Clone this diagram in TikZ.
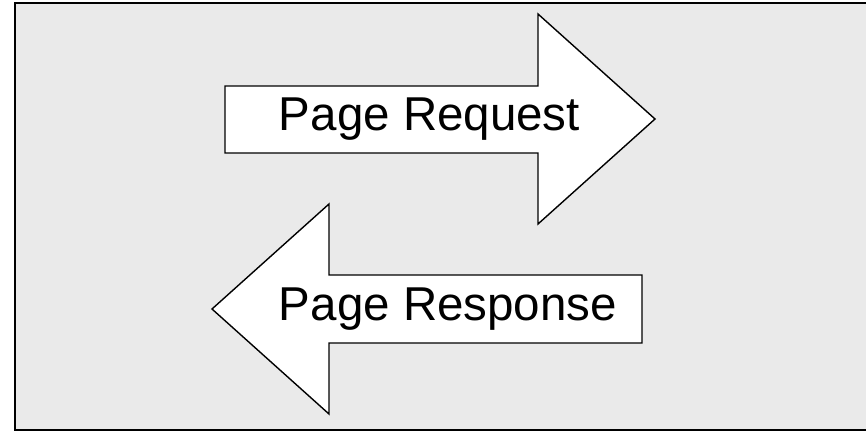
\documentclass[tikz,border=0pt]{standalone}
\usepackage{fontspec}
\setmainfont{Liberation Sans}
\definecolor{bggray}{HTML}{EAEAEA}
\tikzset{
  arrowshape/.style={draw=black, fill=white, line width=1.4pt, line join=miter},
  frame/.style={draw=black, fill=bggray, line width=2pt},
  label/.style={inner sep=0pt, font=\fontsize{47.5}{57}\selectfont}
}
\begin{document}
\begin{tikzpicture}[x=1pt, y=-1pt]
\useasboundingbox (0,0) rectangle (866,433);
\path[frame] (15,3.5) rectangle (880,430);
% request arrow (right)
\path[arrowshape] (225,86) -- (538,86) -- (538,14) -- (655,119) -- (538,224) -- (538,153) -- (225,153) -- cycle;
% response arrow (left)
\path[arrowshape] (642,275) -- (329,275) -- (329,204) -- (212,309) -- (329,414) -- (329,343) -- (642,343) -- cycle;
\node[label] (req) at (429.5,119.5) {Page Request};
\node[label] (resp) at (448,309) {Page Response};
\end{tikzpicture}
\end{document}
